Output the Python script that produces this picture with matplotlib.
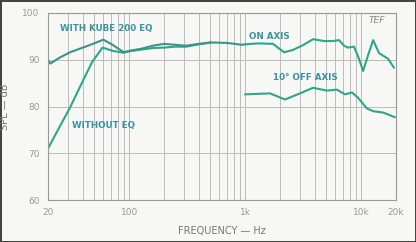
import matplotlib.pyplot as plt
import numpy as np

# with Kube 200 EQ (low end)
eq_f = [20, 21, 25, 31, 40, 50, 60, 72, 90, 100, 130, 160, 200, 250, 310, 400, 510, 700, 935, 1000]
eq_db = [90.0, 89.2, 90.4, 91.6, 92.6, 93.5, 94.3, 93.2, 91.6, 91.9, 92.4, 93.0, 93.4, 93.2, 93.0, 93.4, 93.7, 93.6, 93.2, 93.3]

# without EQ
noeq_f = [20, 25, 31, 40, 48, 59, 72, 90, 100, 130, 160, 200, 250, 310, 400, 510]
noeq_db = [71.0, 75.5, 79.8, 85.5, 89.5, 92.6, 91.9, 91.5, 91.8, 92.2, 92.5, 92.6, 92.8, 92.8, 93.3, 93.7]

# on axis
on_f = [1000, 1300, 1740, 2170, 2590, 3200, 3850, 4800, 5730, 6460, 7130, 7710, 8690, 9500, 10400, 11500, 12700, 14300, 17100, 19200]
on_db = [93.3, 93.5, 93.4, 91.6, 92.1, 93.2, 94.4, 94.0, 94.0, 94.2, 93.0, 92.6, 92.8, 90.5, 87.6, 91.0, 94.2, 91.4, 90.2, 88.3]

# 10 deg off axis
off_f = [1000, 1640, 2210, 2970, 3850, 5080, 6200, 7260, 8350, 9400, 11200, 12700, 15500, 19600]
off_db = [82.6, 82.8, 81.5, 82.8, 84.0, 83.4, 83.6, 82.6, 83.0, 81.9, 79.6, 79.0, 78.7, 77.7]

line_c = '#2ba88c'
eq_c = '#3a9488'
text_c = '#3a94a0'
grid_c = '#bcbcbc'

fig = plt.figure(figsize=(4.16, 2.42), dpi=100)
fig.patch.set_facecolor('#f7f7f5')
fig.patch.set_edgecolor('#444444')
fig.patch.set_linewidth(2)
ax = fig.add_axes([48/416, 1-200/242, 348/416, 187/242])
ax.set_facecolor('#f7f7f5')

ax.plot(noeq_f, noeq_db, color=line_c, lw=1.5, solid_capstyle='round')
ax.plot(eq_f, eq_db, color=eq_c, lw=1.5, solid_capstyle='round')
ax.plot(on_f, on_db, color=line_c, lw=1.5, solid_capstyle='round')
ax.plot(off_f, off_db, color=line_c, lw=1.5, solid_capstyle='round')

ax.set_xscale('log')
ax.set_xlim(20, 20000)
ax.set_ylim(60, 100)
ax.set_xticks([20, 100, 1000, 10000, 20000])
ax.set_xticklabels(['20', '100', '1k', '10k', '20k'])
ax.set_xticks([m * k for m in [10, 100, 1000] for k in range(2, 10) if 20 < m * k < 20000], minor=True)
ax.set_yticks([60, 70, 80, 90, 100])
ax.grid(True, which='both', axis='x', color=grid_c, lw=0.7)
ax.grid(True, which='major', axis='y', color=grid_c, lw=0.7)
ax.tick_params(which='both', length=0, labelsize=6.5, colors='#999999', pad=6)
ax.xaxis.set_minor_formatter(plt.NullFormatter())
for s in ax.spines.values():
    s.set_color('#999999')
    s.set_linewidth(0.8)

ax.set_xlabel('FREQUENCY — Hz', fontsize=7, color='#777777', labelpad=6)
ax.set_ylabel('SPL — dB', fontsize=7, color='#777777', labelpad=9)

kw = dict(fontsize=6.3, color=text_c, fontweight='bold', va='center')
ax.text(25.4, 96.6, 'WITH KUBE 200 EQ', **kw)
ax.text(32, 76.0, 'WITHOUT EQ', **kw)
ax.text(1080, 95.0, 'ON AXIS', **kw)
ax.text(1750, 86.1, '10° OFF AXIS', **kw)
ax.text(11500, 98.4, 'TEF', fontsize=6.5, color='#888888', style='italic', va='center')

fig.savefig('out.png', dpi=100, facecolor=fig.get_facecolor(), edgecolor=fig.get_edgecolor())
